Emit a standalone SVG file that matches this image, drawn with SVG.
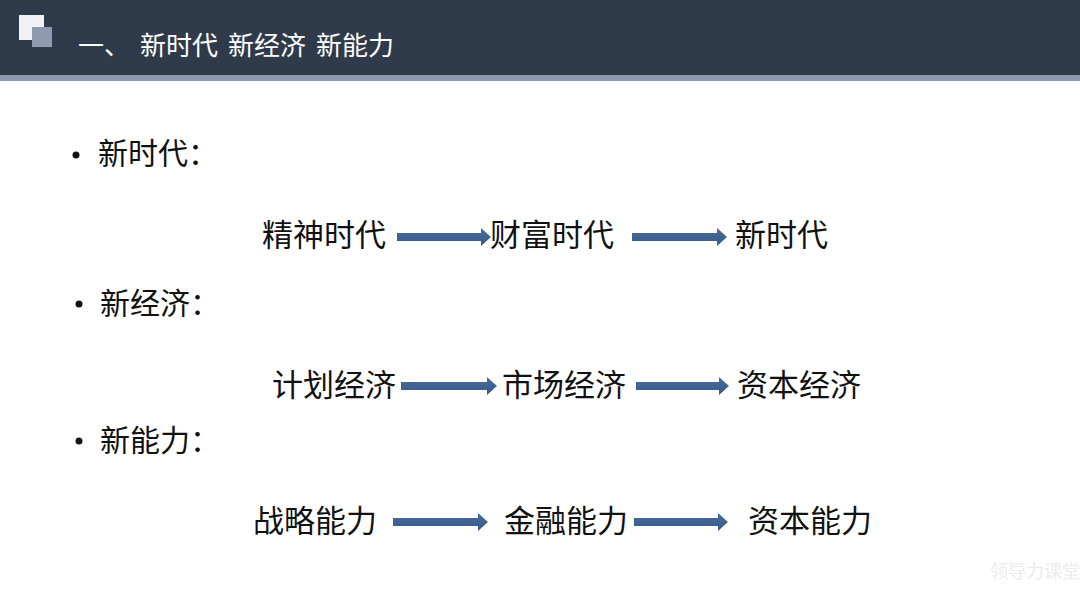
<svg xmlns="http://www.w3.org/2000/svg" width="1080" height="599" viewBox="0 0 1080 599">
<defs>
<style>
.t{font-family:"Liberation Serif","Noto Sans CJK SC",serif;font-size:31px;fill:#111;dominant-baseline:central}
.b{font-family:"Liberation Serif","Noto Sans CJK SC",serif;font-size:30px;fill:#111;dominant-baseline:central}
.h{font-family:"Liberation Sans","Noto Sans CJK SC",sans-serif;font-size:26px;fill:#fff;dominant-baseline:central}
.arr{fill:url(#ag)}
</style>
<linearGradient id="ag" x1="0" y1="0" x2="0" y2="1">
<stop offset="0" stop-color="#4a6c9c"/>
<stop offset="1" stop-color="#365a88"/>
</linearGradient>
</defs>
<rect width="1080" height="599" fill="#fff"/>
<g id="header">
<rect x="0" y="0" width="1080" height="75" fill="#2f3b4a"/>
<rect x="0" y="75" width="1080" height="6" fill="#8d9bb0"/>
<rect x="19" y="15" width="25" height="25" fill="#f1f2f6"/>
<rect x="32" y="27" width="20" height="20" fill="#8e9ab0"/>
<text class="h" x="78" y="46">一、</text>
<text class="h" x="140" y="46">新时代</text>
<text class="h" x="228" y="46">新经济</text>
<text class="h" x="316" y="46">新能力</text>
</g>
<g id="bullets">
<circle cx="76" cy="155" r="3.5" fill="#111"/>
<text class="b" x="98" y="153">新时代：</text>
<circle cx="79" cy="304" r="3.5" fill="#111"/>
<text class="b" x="100" y="303">新经济：</text>
<circle cx="79" cy="441" r="3.5" fill="#111"/>
<text class="b" x="100" y="440">新能力：</text>
</g>
<g id="row1">
<text class="t" x="262" y="235">精神时代</text>
<text class="t" x="490" y="235">财富时代</text>
<text class="t" x="735" y="235">新时代</text>
</g>
<g id="row2">
<text class="t" x="272" y="385">计划经济</text>
<text class="t" x="502" y="385">市场经济</text>
<text class="t" x="737" y="385">资本经济</text>
</g>
<g id="row3">
<text class="t" x="253" y="521">战略能力</text>
<text class="t" x="504" y="521">金融能力</text>
<text class="t" x="748" y="521">资本能力</text>
</g>
<g id="connectors">
<path class="arr" d="M397,233 H481 V228 L491,237 L481,246 V241 H397 Z"/>
<path class="arr" d="M632,233 H717 V228 L727,237 L717,246 V241 H632 Z"/>
<path class="arr" d="M401,382 H487 V377 L497,386 L487,395 V390 H401 Z"/>
<path class="arr" d="M636,382 H719 V377 L729,386 L719,395 V390 H636 Z"/>
<path class="arr" d="M393,518 H478 V513 L488,522 L478,531 V526 H393 Z"/>
<path class="arr" d="M634,518 H718 V513 L728,522 L718,531 V526 H634 Z"/>
</g>
<text x="990" y="578" font-family="'Noto Sans CJK SC',sans-serif" font-size="18" fill="#ececec">领导力课堂</text>
</svg>
